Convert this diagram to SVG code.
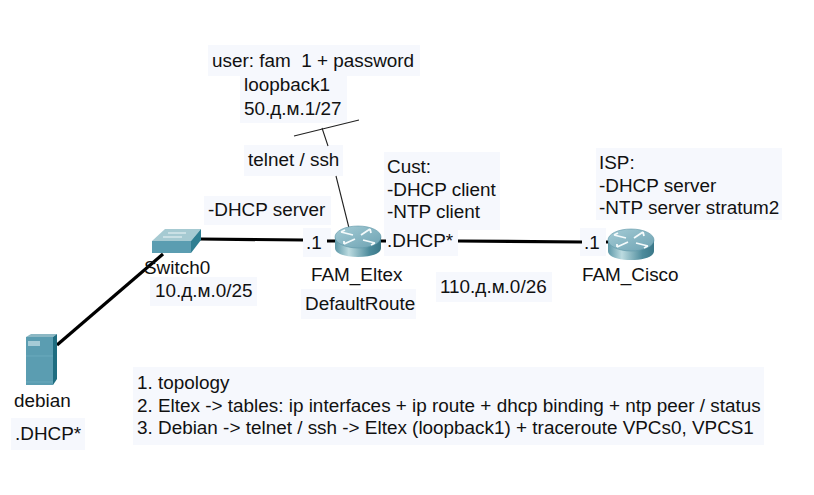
<svg xmlns="http://www.w3.org/2000/svg" width="814" height="495" viewBox="0 0 814 495">
<style>
text{font-family:"Liberation Sans",Arial,sans-serif;font-size:18.900px;fill:#111;white-space:pre}
.bg{fill:#f6f8fd}
.thick{stroke:#000;stroke-width:3.200;fill:none}
.thin{stroke:#222;stroke-width:1.100;fill:none}
</style>
<defs>
<linearGradient id="rs" x1="0" x2="1" y1="0" y2="0">
<stop offset="0" stop-color="#5d98a8"/><stop offset=".3" stop-color="#bcdbe0"/><stop offset=".75" stop-color="#4d8b9c"/><stop offset="1" stop-color="#3a7788"/>
</linearGradient>
<linearGradient id="rt" x1="0" x2="1" y1="0" y2="1">
<stop offset="0" stop-color="#a5ccd6"/><stop offset="1" stop-color="#6da2b2"/>
</linearGradient>
<g id="router">
<path d="M-23 -3V8C-23 14 -12 17 0 17S23 14 23 8V-3Z" fill="url(#rs)"/>
<ellipse cx="0" cy="-3" rx="23" ry="11" fill="url(#rt)" stroke="#5f97a8" stroke-width=".6"/>
<path d="M-17 -8-5 -5M-17 -8l4 -2M5 0 17 3M17 3l-4 2M-3 -1-14 4M-14 4l0 -3M3 -5 12 -11M12 -11l1 4" stroke="#f4fafb" stroke-width="1.800" fill="none"/>
</g>
</defs>
<g id="backgrounds">
<rect class="bg" x="208" y="45" width="212" height="31"/>
<rect class="bg" x="240" y="76" width="107" height="47"/>
<rect class="bg" x="244" y="145" width="99" height="31"/>
<rect class="bg" x="384" y="152" width="116" height="78"/>
<rect class="bg" x="384" y="230" width="74" height="26"/>
<rect class="bg" x="596" y="148" width="186" height="72"/>
<rect class="bg" x="204" y="196" width="127" height="29"/>
<rect class="bg" x="303" y="228" width="28" height="29"/>
<rect class="bg" x="150" y="277" width="107" height="29"/>
<rect class="bg" x="301" y="289" width="115" height="30"/>
<rect class="bg" x="436" y="272" width="116" height="30"/>
<rect class="bg" x="580" y="228" width="26" height="28"/>
<rect class="bg" x="11" y="418" width="74" height="32"/>
<rect class="bg" x="133" y="367" width="631" height="78"/>
</g>
<g id="connectors">
<path class="thick" d="M57 345 163 254"/>
<path class="thick" d="M200 239 303 240M327 241H336"/>
<path class="thick" d="M380 241H386M458 241 582 242M606 242H610"/>
<path class="thin" d="M294 136 359 120M322 128 328 146M336 176 349 228"/>
</g>
<g id="debian">
<path d="M26 337 31 334H57L53 337Z" fill="#8cb8c4"/>
<path d="M53 337 57 334V379L53 385Z" fill="#1f6d80"/>
<rect x="26" y="337" width="27" height="48" fill="#5b9db1"/>
<rect x="28" y="341" width="12" height="5" fill="#a5cbd6"/>
<path d="M26 356H53M26 382H53" stroke="#6fadc0" stroke-width=".8"/>
<text x="14" y="407">debian</text>
<text x="15" y="440">.DHCP*</text>
</g>
<g id="Switch0">
<path d="M152 241 165 229H201L191 241Z" fill="#a6cad2"/>
<path d="M191 241 201 229V240L191 253Z" fill="#2f7f92"/>
<rect x="152" y="241" width="39" height="12" fill="#5b9db1"/>
<path d="M168 233H186M163 237H182" stroke="#eef6f8" stroke-width="1.200"/>
<text x="144" y="274">Switch0</text>
<text x="155" y="297">10.д.м.0/25</text>
</g>
<g id="FAM_Eltex">
<use href="#router" x="358" y="240"/>
<text x="311" y="281">FAM_Eltex</text>
<text x="305" y="310">DefaultRoute</text>
<text x="306" y="249">.1</text>
</g>
<g id="FAM_Cisco">
<use href="#router" x="631" y="243"/>
<text x="582" y="281">FAM_Cisco</text>
<text x="584" y="249">.1</text>
</g>
<g id="labels">
<text x="212" y="67">user: fam  1 + password</text>
<text x="244" y="91">loopback1</text>
<text x="244" y="115">50.д.м.1/27</text>
<text x="248" y="166">telnet / ssh</text>
<text x="387" y="173">Cust:</text>
<text x="387" y="196">-DHCP client</text>
<text x="387" y="218">-NTP client</text>
<text x="387" y="247">.DHCP*</text>
<text x="599" y="169">ISP:</text>
<text x="599" y="192">-DHCP server</text>
<text x="599" y="214">-NTP server stratum2</text>
<text x="208" y="216">-DHCP server</text>
<text x="440" y="293">110.д.м.0/26</text>
<text x="137" y="389">1. topology</text>
<text x="137" y="412">2. Eltex -&gt; tables: ip interfaces + ip route + dhcp binding + ntp peer / status</text>
<text x="137" y="434">3. Debian -&gt; telnet / ssh -&gt; Eltex (loopback1) + traceroute VPCs0, VPCS1</text>
</g>
</svg>
